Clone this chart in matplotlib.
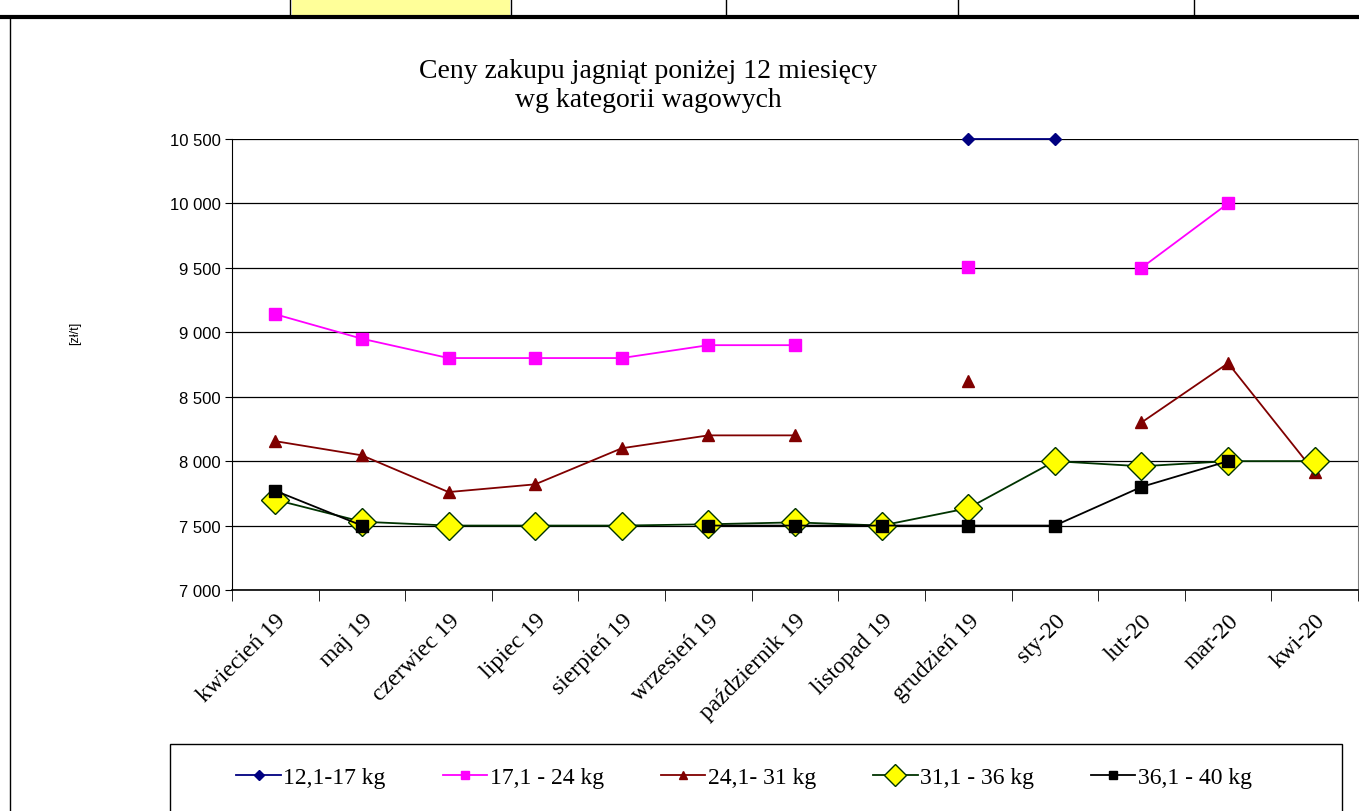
import numpy as np
import matplotlib
matplotlib.use('Agg')
import matplotlib.pyplot as plt
from matplotlib.patches import Rectangle
from matplotlib.lines import Line2D
from matplotlib.ticker import FuncFormatter, FixedLocator

nan = np.nan

# Dane
miesiace = ['kwiecień 19', 'maj 19', 'czerwiec 19', 'lipiec 19', 'sierpień 19',
            'wrzesień 19', 'październik 19', 'listopad 19', 'grudzień 19',
            'sty-20', 'lut-20', 'mar-20', 'kwi-20']
kat_12_17 = [nan, nan, nan, nan, nan, nan, nan, nan, 10500, 10500, nan, nan, nan]
kat_17_24 = [9140, 8950, 8800, 8800, 8800, 8900, 8900, nan, 9510, nan, 9500, 10000, nan]
kat_24_31 = [8155, 8045, 7760, 7820, 8100, 8200, 8200, nan, 8625, nan, 8300, 8760, 7915]
kat_31_36 = [7700, 7530, 7500, 7500, 7500, 7510, 7525, 7500, 7635, 8000, 7960, 8000, 8000]
kat_36_40 = [7770, 7500, nan, nan, nan, 7500, 7500, 7500, 7500, 7500, 7800, 8000, nan]
etykiety = ['12,1-17 kg', '17,1 - 24 kg', '24,1- 31 kg', '31,1 - 36 kg', '36,1 - 40 kg']

W, H = 1359, 812
fig = plt.figure(figsize=(W / 100, H / 100), dpi=100)

# fragment tabeli nad wykresem
fig.add_artist(Rectangle((292 / W, 1 - 17 / H), 218 / W, 17 / H, transform=fig.transFigure,
                         facecolor='#ffff99', edgecolor='none'))
for xs in [290, 511, 726, 958, 1194]:
    fig.add_artist(Line2D([xs / W, xs / W], [1 - 17 / H, 1], transform=fig.transFigure,
                          color='black', lw=1))
fig.add_artist(Line2D([0, 1], [1 - 17.5 / H, 1 - 17.5 / H], transform=fig.transFigure,
                      color='black', lw=3))
fig.add_artist(Line2D([10 / W, 10 / W], [0, 1 - 18 / H], transform=fig.transFigure,
                      color='black', lw=1))

ax = fig.add_axes([232 / W, 1 - 591 / H, 1126 / W, 451 / H])
x = np.arange(len(miesiace))

ax.plot(x, kat_12_17, color='#000080', marker='D', markersize=6, lw=1.3,
        label=etykiety[0], clip_on=False)
ax.plot(x, kat_17_24, color='#ff00ff', marker='s', markersize=8, lw=1.3, label=etykiety[1])
ax.plot(x, kat_24_31, color='#800000', marker='^', markersize=8, lw=1.3, label=etykiety[2])
ax.plot(x, kat_31_36, color='#003300', marker='D', markersize=14, markerfacecolor='#ffff00',
        markeredgecolor='#003300', markeredgewidth=1, lw=1.3, label=etykiety[3])
ax.plot(x, kat_36_40, color='black', marker='s', markersize=8, lw=1.3, label=etykiety[4])

ax.set_xlim(-0.5, len(miesiace) - 0.5)
ax.set_ylim(7000, 10500)
ax.set_yticks(np.arange(7000, 10501, 500))
ax.yaxis.set_major_formatter(FuncFormatter(lambda v, p: f'{int(v):,}'.replace(',', ' ')))
ax.grid(axis='y', color='black', lw=0.9)
ax.set_axisbelow(True)

ax.set_xticks(x)
ax.set_xticklabels(miesiace, rotation=45, ha='right', rotation_mode='anchor',
                   family='Liberation Serif', fontsize=17)
ax.xaxis.set_minor_locator(FixedLocator(np.arange(-0.5, len(miesiace), 1)))
ax.tick_params(axis='x', which='major', length=0, pad=14)
ax.tick_params(axis='x', which='minor', length=8, direction='out', color='black')
ax.tick_params(axis='y', length=5, labelsize=12, pad=3)
for lab in ax.get_yticklabels():
    lab.set_family('Liberation Sans')

ax.spines['top'].set_visible(False)
ax.spines['right'].set_color('#808080')
ax.spines['left'].set_color('black')
ax.spines['bottom'].set_color('black')
ax.spines['bottom'].set_linewidth(1.2)

fig.text(75 / W, 1 - 333 / H, '[zł/t]', rotation=90, ha='center', va='center',
         family='Liberation Sans', fontsize=9)
fig.text(648 / W, 1 - 86 / H, 'Ceny zakupu jagniąt poniżej 12 miesięcy\nwg kategorii wagowych',
         ha='center', va='center', family='Liberation Serif', fontsize=20, linespacing=1.2)

# legenda
fig.add_artist(Rectangle((170 / W, -0.05), 1172 / W, 0.05 + (812 - 745) / H,
                         transform=fig.transFigure, facecolor='white', edgecolor='black', lw=1))
fig.legend(loc='center', bbox_to_anchor=(744 / W, 1 - 778 / H), ncol=5, frameon=False,
           prop={'family': 'Liberation Serif', 'size': 17}, handlelength=1.9,
           handletextpad=0.1, columnspacing=2.4, markerscale=0.8)

plt.savefig('out.png', dpi=100)
